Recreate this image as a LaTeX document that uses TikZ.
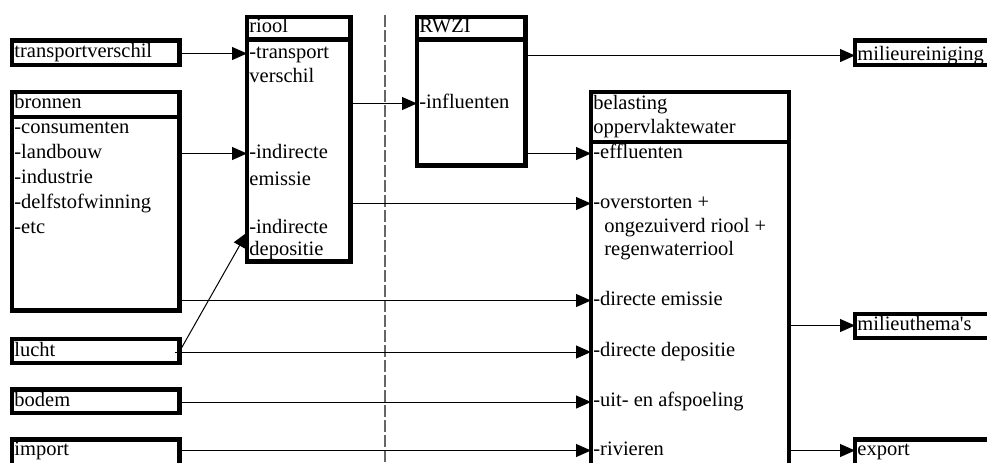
\documentclass[tikz,border=0pt]{standalone}
\usepackage{fontspec}
\setmainfont{Liberation Serif}
\usetikzlibrary{arrows.meta,fit}
\begin{document}
\begin{tikzpicture}[x=0.5pt, y=-0.5pt,
	box/.style={draw, line width=2.1pt, inner sep=0pt, outer sep=0pt},
	txt/.style={anchor=mid west, inner xsep=1pt, inner ysep=0pt, font=\fontsize{10.25}{12.5}\selectfont},
	arr/.style={line width=0.5pt, -{Triangle[length=7.5pt, width=6.5pt]}}]
\useasboundingbox (0,0) rectangle (987,462);
\clip (0,0) rectangle (987,462);
% left column
\node[box, fit={(12,40.5) (179.5,65)}] (trans) {};
\node[box, fit={(12,92) (179.5,117)}] (bron-h) {};
\node[box, fit={(12,117) (179.5,310.5)}] (bron) {};
\node[box, fit={(12,339) (179.5,363)}] (lucht) {};
\node[box, fit={(12,389.5) (179.5,413)}] (bodem) {};
\node[box, fit={(12,439.5) (179.5,490)}] (import) {};
\node[txt] (trans-t) at (12,53) {transportverschil};
\node[txt] (bron-t) at (12,103.5) {bronnen};
\foreach \t [count=\i] in {consumenten, landbouw, industrie, delfstofwinning, etc}
{
	\node[txt] (b\i) at (12, 103.5+25*\i) {-\t};
}
\node[txt] (lucht-t) at (12,351.5) {lucht};
\node[txt] (bodem-t) at (12,402) {bodem};
\node[txt] (import-t) at (12,451) {import};
% riool
\node[box, fit={(247,17) (350.5,39.5)}] (riool-h) {};
\node[box, fit={(247,39.5) (350.5,261.5)}] (riool) {};
\node[txt] (riool-t) at (247,27.5) {riool};
\node[txt] (rt1) at (247,53.5) {-transport};
\node[txt] (rt2) at (247,77.5) {verschil};
\node[txt] (re1) at (247,153.5) {-indirecte};
\node[txt] (re2) at (247,180.5) {emissie};
\node[txt] (rd1) at (247,228.5) {-indirecte};
\node[txt] (rd2) at (247,250.5) {depositie};
% scheiding
\draw[black!60, line width=1pt, dash pattern=on 5.75pt off 1.75pt] (385,15) -- (385,470);
% RWZI
\node[box, fit={(417,17) (525.5,39.5)}] (rwzi-h) {};
\node[box, fit={(417,39.5) (525.5,165.5)}] (rwzi) {};
\node[txt] (rwzi-t) at (417,27.5) {RWZI};
\node[txt] (wi) at (417,103.5) {-influenten};
% belasting oppervlaktewater
\node[box, fit={(591,92) (789,142)}] (bel-h) {};
\node[box, fit={(591,142) (789,490)}] (bel) {};
\node[txt] (bel-t1) at (591,105) {belasting};
\node[txt] (bel-t2) at (591,128.5) {oppervlaktewater};
\node[txt] (be) at (591,153.5) {-effluenten};
\node[txt] (bo) at (591,203.5) {-overstorten +};
\node[txt] (bo2) at (602,228) {ongezuiverd riool +};
\node[txt] (bo3) at (602,250.5) {regenwaterriool};
\node[txt] (bde) at (591,300.5) {-directe emissie};
\node[txt] (bdd) at (591,352) {-directe depositie};
\node[txt] (bua) at (591,402) {-uit- en afspoeling};
\node[txt] (bri) at (591,450.5) {-rivieren};
% rechts
\node[box, fit={(855,40.5) (1000,65)}] (mr) {};
\node[box, fit={(855,314) (1000,338)}] (mt) {};
\node[box, fit={(855,439.5) (1000,490)}] (exp) {};
\node[txt] (mr-t) at (855,55.5) {milieureiniging};
\node[txt] (mt-t) at (855,325.5) {milieuthema\textquotesingle s};
\node[txt] (exp-t) at (855,450.5) {export};
% pijlen
\draw[arr] (rt1.mid west -| trans.east) -- (rt1.mid west);
\draw[arr] (re1.mid west -| bron.east) -- (re1.mid west);
\draw[arr] (lucht-t.mid west -| lucht.east) -- ([yshift=-2pt]rd1.mid west);
\draw[arr] (wi.mid west -| riool.east) -- (wi.mid west);
\draw[arr] (bo.mid west -| riool.east) -- (bo.mid west);
\draw[arr] (be.mid west -| rwzi.east) -- (be.mid west);
\draw[arr] (mr-t.mid west -| rwzi.east) -- (mr-t.mid west);
\draw[arr] (bde.mid west -| bron.east) -- (bde.mid west);
\draw[arr] ([xshift=-2.5pt]bdd.mid west -| lucht.east) -- (bdd.mid west);
\draw[arr] (bua.mid west -| bodem.east) -- (bua.mid west);
\draw[arr] (bri.mid west -| import.east) -- (bri.mid west);
\draw[arr] (mt-t.mid west -| bel.east) -- (mt-t.mid west);
\draw[arr] (exp-t.mid west -| bel.east) -- (exp-t.mid west);
\end{tikzpicture}
\end{document}
